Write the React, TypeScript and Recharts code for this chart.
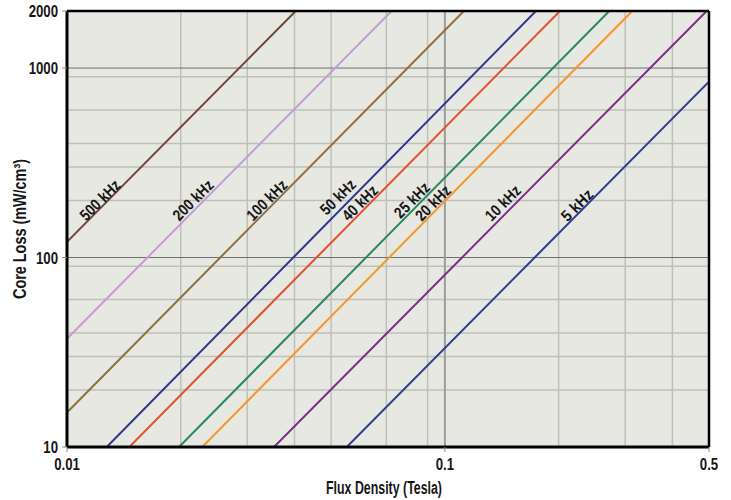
import React from 'react';
import { LineChart, Line, XAxis, YAxis, CartesianGrid, ReferenceLine, ReferenceDot } from 'recharts';

// Frequencies (series)
const seriesNames = ['500 kHz', '200 kHz', '100 kHz', '50 kHz', '40 kHz', '25 kHz', '20 kHz', '10 kHz', '5 kHz'];
// Start / end points of each curve (Flux Density in Tesla, Core Loss in mW/cm³)
const startFlux = [0.01, 0.01, 0.01, 0.01274, 0.01462, 0.01979, 0.0228, 0.0353, 0.055];
const startLoss = [121, 37.3, 15.2, 10, 10, 10, 10, 10, 10];
const endFlux = [0.0403, 0.0723, 0.1123, 0.1742, 0.2017, 0.2723, 0.3133, 0.493, 0.5];
const endLoss = [2000, 2000, 2000, 2000, 2000, 2000, 2000, 2000, 847];
// Label anchor points (data units)
const labelFlux = [0.01223, 0.02156, 0.0338, 0.0521, 0.0596, 0.0818, 0.093, 0.1424, 0.2237];
const labelLoss = [201, 201, 201, 208.6, 193.9, 201, 194, 194, 189];

// Axis ticks and grid values
const xTicks = [0.01, 0.1, 0.5];
const yTicks = [10, 100, 1000, 2000];
const xMinorGrid = [0.02, 0.03, 0.04, 0.05, 0.06, 0.07, 0.08, 0.09, 0.2, 0.3, 0.4];
const yMinorGrid = [20, 30, 40, 50, 60, 70, 80, 90, 200, 300, 400, 500, 600, 700, 800, 900];
const xMajorGrid = [0.1];
const yMajorGrid = [100, 1000];

const colors = ['#6b4733', '#c49cd0', '#8f6f3c', '#2e3590', '#e0512c', '#26885c', '#f7962a', '#7a2d86', '#2f3a92'];

const FONT = '"Liberation Sans", Arial, "DejaVu Sans", sans-serif';
const TEXT_COLOR = '#161616';

const labelLength = (s: string) => (s.length >= 7 ? 50 : s.length === 6 ? 43 : 38);

const XTick = (props: any) => {
  const { x, y, payload } = props;
  return (
    <text
      transform={`translate(${x},${y + 16}) scale(0.8,1)`}
      textAnchor="middle"
      fontFamily={FONT}
      fontWeight="bold"
      fontSize={16.5}
      fill={TEXT_COLOR}
    >
      {String(payload.value)}
    </text>
  );
};

const YTick = (props: any) => {
  const { x, y, payload } = props;
  return (
    <text
      transform={`translate(${x - 2},${y + 6}) scale(0.8,1)`}
      textAnchor="end"
      fontFamily={FONT}
      fontWeight="bold"
      fontSize={16.5}
      fill={TEXT_COLOR}
    >
      {String(payload.value)}
    </text>
  );
};

const XTitle = (props: any) => {
  const vb = props.viewBox || { x: 67, y: 447, width: 642, height: 53 };
  const cx = vb.x + vb.width / 2 - 4;
  return (
    <text
      x={cx}
      y={vb.y + 47}
      textAnchor="middle"
      fontFamily={FONT}
      fontWeight="bold"
      fontSize={17.5}
      fill={TEXT_COLOR}
      textLength={116}
      lengthAdjust="spacingAndGlyphs"
    >
      Flux Density (Tesla)
    </text>
  );
};

const YTitle = (props: any) => {
  const vb = props.viewBox || { x: 0, y: 11, width: 67, height: 436 };
  const bx = vb.x + 26;
  const cy = vb.y + vb.height / 2;
  return (
    <text
      x={bx}
      y={cy}
      transform={`rotate(-90 ${bx} ${cy})`}
      textAnchor="middle"
      fontFamily={FONT}
      fontWeight="bold"
      fontSize={17.5}
      fill={TEXT_COLOR}
      textLength={140}
      lengthAdjust="spacingAndGlyphs"
    >
      Core Loss (mW/cm³)
    </text>
  );
};

export default function App() {
  return (
    <div style={{ position: 'absolute', left: 0, top: 0, width: 731, height: 500, background: '#ffffff' }}>
      <LineChart width={731} height={500} margin={{ top: 11, right: 22, left: 0, bottom: 0 }}>
        <CartesianGrid
          fill="#e8e8e3"
          stroke="#c0c0bb"
          strokeWidth={1.5}
          horizontalValues={yMinorGrid}
          verticalValues={xMinorGrid}
        />
        <CartesianGrid stroke="#6e6e6e" strokeWidth={1} horizontalValues={yMajorGrid} vertical={false} />
        <CartesianGrid stroke="#9c9c9c" strokeWidth={2} verticalValues={xMajorGrid} horizontal={false} />
        <XAxis
          dataKey="x"
          type="number"
          scale="log"
          domain={[0.01, 0.5]}
          ticks={xTicks}
          allowDataOverflow
          height={53}
          axisLine={{ stroke: '#000', strokeWidth: 3 }}
          tickLine={{ stroke: '#888', strokeWidth: 1 }}
          tickSize={5}
          tick={<XTick />}
          label={(p: any) => <XTitle {...p} />}
        />
        <YAxis
          dataKey="y"
          type="number"
          scale="log"
          domain={[10, 2000]}
          ticks={yTicks}
          allowDataOverflow
          width={67}
          axisLine={{ stroke: '#000', strokeWidth: 3 }}
          tickLine={{ stroke: '#888', strokeWidth: 1 }}
          tickSize={5}
          tick={<YTick />}
          label={(p: any) => <YTitle {...p} />}
        />
        {seriesNames.map((name, i) => (
          <Line
            key={name}
            name={name}
            data={[
              { x: startFlux[i], y: startLoss[i] },
              { x: endFlux[i], y: endLoss[i] },
            ]}
            dataKey="y"
            stroke={colors[i]}
            strokeWidth={2}
            dot={false}
            activeDot={false}
            isAnimationActive={false}
          />
        ))}
        <ReferenceLine y={2000} stroke="#000" strokeWidth={2.5} />
        <ReferenceLine x={0.5} stroke="#000" strokeWidth={2.5} />
        {seriesNames.map((name, i) => (
          <ReferenceDot
            key={'lbl' + name}
            x={labelFlux[i]}
            y={labelLoss[i]}
            r={0}
            shape={(p: any) => (
              <text
                x={p.cx}
                y={p.cy}
                transform={`rotate(-45 ${p.cx} ${p.cy})`}
                textAnchor="middle"
                dominantBaseline="central"
                fontFamily={FONT}
                fontWeight="bold"
                fontSize={16}
                fill={TEXT_COLOR}
                textLength={labelLength(name)}
                lengthAdjust="spacingAndGlyphs"
              >
                {name}
              </text>
            )}
          />
        ))}
      </LineChart>
    </div>
  );
}
